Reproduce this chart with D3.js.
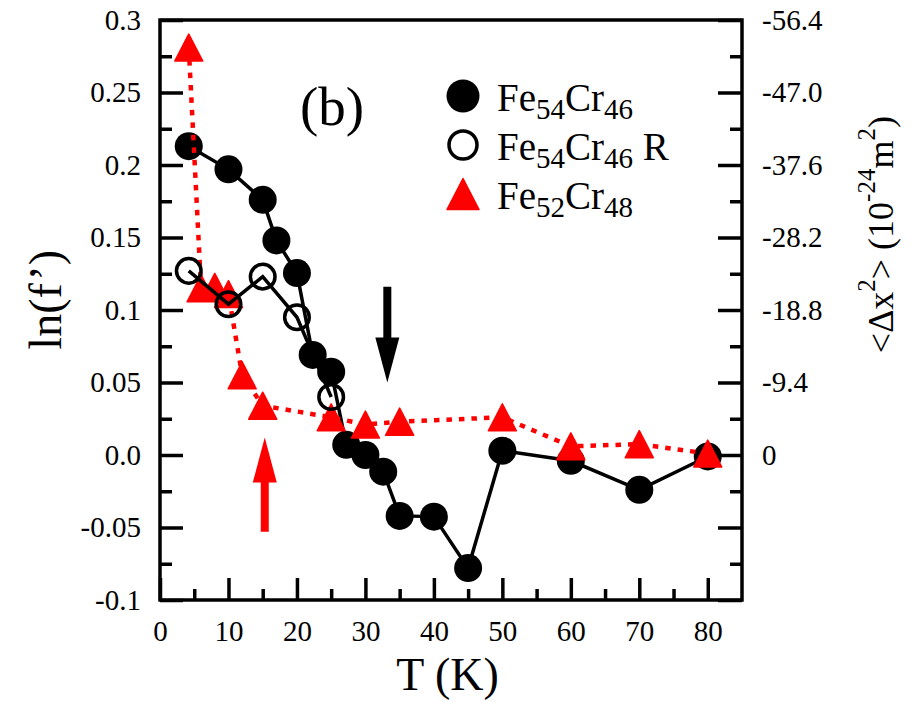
<!DOCTYPE html>
<html>
<head>
<meta charset="utf-8">
<script src="https://cdn.jsdelivr.net/npm/d3@7/dist/d3.min.js"></script>
<style>
  html, body { margin: 0; padding: 0; background: #fff; }
  svg { display: block; }
  text { font-family: "Liberation Serif", "Times New Roman", serif; fill: #000; }
</style>
</head>
<body>
<svg id="chart" width="913" height="701"></svg>
<script>
// ---------------- data ----------------
const T_FeCr46 = [4.2, 10, 15, 17, 20, 22.3, 25, 27.2, 30, 32.6, 35, 40, 45, 50, 60, 70, 80];
const lnf_FeCr46 = [0.213, 0.197, 0.176, 0.148, 0.1255, 0.069, 0.0575, 0.007, 0.0, -0.0115, -0.042, -0.0425, -0.078, 0.003, -0.004, -0.024, -0.001];

const T_FeCr46R = [4.2, 10, 15, 20, 25];
const lnf_FeCr46R = [0.127, 0.104, 0.123, 0.095, 0.040];

const T_FeCr48 = [4.2, 6, 8, 10, 12, 15, 25, 30, 35, 50, 60, 70, 80];
const lnf_FeCr48 = [0.281, 0.115, 0.116, 0.111, 0.055, 0.034, 0.026, 0.021, 0.023, 0.026, 0.006, 0.0075, 0.001];

const xTicks = [0, 10, 20, 30, 40, 50, 60, 70, 80];
const xMinor = [5, 15, 25, 35, 45, 55, 65, 75];
const yTicks = [0.3, 0.25, 0.2, 0.15, 0.1, 0.05, 0.0, -0.05, -0.1];
const yTickLabels = ["0.3", "0.25", "0.2", "0.15", "0.1", "0.05", "0.0", "-0.05", "-0.1"];
const yMinor = [0.275, 0.225, 0.175, 0.125, 0.075, 0.025, -0.025, -0.075];
const rightTicks = [0.3, 0.25, 0.2, 0.15, 0.1, 0.05, 0.0];
const rightTickLabels = ["-56.4", "-47.0", "-37.6", "-28.2", "-18.8", "-9.4", "0"];

// annotation arrows (data units): x, tail y, tip y
const arrows = [
  { T: 33.2, from: 0.116, to: 0.050, color: "#000" },
  { T: 15.3, from: -0.053, to: 0.012, color: "#ff0000" }
];

// ---------------- layout ----------------
const L = 160, R = 742, Top = 20, Bot = 600;
const svg = d3.select("#chart");
const x = d3.scaleLinear().domain([0, 85]).range([L, R]);
const y = d3.scaleLinear().domain([-0.1, 0.3]).range([Bot, Top]);
const RED = "#ff0000";

// axes
function styleAxis(g) {
  g.attr("font-family", null).attr("font-size", null);
  g.select(".domain").remove();
  g.selectAll(".tick line").attr("stroke", "#000").attr("stroke-width", 3.5);
  g.selectAll(".tick text").style("font-family", "'Liberation Serif', 'Times New Roman', serif").style("font-size", "29px").attr("fill", "#000");
}

// bottom
svg.append("g").attr("transform", `translate(0,${Bot})`)
  .call(d3.axisBottom(x).tickValues(xTicks).tickSize(-22).tickPadding(20).tickFormat(d3.format("d")))
  .call(styleAxis);
svg.append("g").attr("transform", `translate(0,${Bot})`)
  .call(d3.axisBottom(x).tickValues(xMinor).tickSize(-11).tickFormat(""))
  .call(styleAxis);

// left
svg.append("g").attr("transform", `translate(${L},0)`)
  .call(d3.axisLeft(y).tickValues(yTicks).tickSize(-23).tickPadding(19).tickFormat((d, i) => yTickLabels[i]))
  .call(styleAxis);
svg.append("g").attr("transform", `translate(${L},0)`)
  .call(d3.axisLeft(y).tickValues(yMinor).tickSize(-12).tickFormat(""))
  .call(styleAxis);

// right
svg.append("g").attr("transform", `translate(${R},0)`)
  .call(d3.axisRight(y).tickValues(rightTicks).tickSize(-24).tickPadding(20).tickFormat((d, i) => rightTickLabels[i]))
  .call(styleAxis);
svg.append("g").attr("transform", `translate(${R},0)`)
  .call(d3.axisRight(y).tickValues([-0.1, -0.05]).tickSize(-24).tickFormat(""))
  .call(styleAxis);
svg.append("g").attr("transform", `translate(${R},0)`)
  .call(d3.axisRight(y).tickValues(yMinor).tickSize(-12).tickFormat(""))
  .call(styleAxis);

// frame
svg.append("rect").attr("x", L).attr("y", Top).attr("width", R - L).attr("height", Bot - Top)
  .attr("fill", "none").attr("stroke", "#000").attr("stroke-width", 3.5);

// axis titles
svg.append("text").attr("x", x(42)).attr("y", 690).attr("text-anchor", "middle")
  .style("font-size", "46px").text("T (K)");

svg.append("text").attr("transform", `translate(61,${y(0.107)}) rotate(-90)`).attr("text-anchor", "middle")
  .style("font-size", "46px").text("ln(f’)");

const rt = svg.append("text").attr("transform", `translate(893,${y(0.152)}) rotate(-90)`).attr("text-anchor", "middle")
  .style("font-size", "36px");
rt.append("tspan").text("<Δx");
rt.append("tspan").attr("dy", -18).style("font-size", "25px").text("2");
rt.append("tspan").attr("dy", 18).text(">");
rt.append("tspan").text(" (10");
rt.append("tspan").attr("dy", -18).style("font-size", "25px").text("-24");
rt.append("tspan").attr("dy", 18).text("m");
rt.append("tspan").attr("dy", -18).style("font-size", "25px").text("2");
rt.append("tspan").attr("dy", 18).text(")");

// (b) label
svg.append("text").attr("x", 300).attr("y", 125).style("font-size", "55px").text("(b)");

// ---------------- series ----------------
const line = d3.line().x(d => x(d[0])).y(d => y(d[1]));
const d46 = T_FeCr46.map((t, i) => [t, lnf_FeCr46[i]]);
const d46R = T_FeCr46R.map((t, i) => [t, lnf_FeCr46R[i]]);
const d48 = T_FeCr48.map((t, i) => [t, lnf_FeCr48[i]]);

const tri = (w, h) => `M0,${-h / 2}L${w / 2},${h / 2}L${-w / 2},${h / 2}Z`;

// Fe54Cr46 (filled)
svg.append("path").datum(d46).attr("d", line).attr("fill", "none").attr("stroke", "#000").attr("stroke-width", 3.5);
svg.append("g").selectAll("circle").data(d46).join("circle")
  .attr("cx", d => x(d[0])).attr("cy", d => y(d[1])).attr("r", 14).attr("fill", "#000");

// Fe52Cr48 (red triangles)
svg.append("path").datum(d48).attr("d", line).attr("fill", "none").attr("stroke", RED)
  .attr("stroke-width", 4.5).attr("stroke-dasharray", "5.5,7");
svg.append("g").selectAll("path").data(d48).join("path")
  .attr("d", tri(28, 27)).attr("transform", d => `translate(${x(d[0])},${y(d[1])})`)
  .attr("fill", RED).attr("stroke", RED).attr("stroke-width", 1.5).attr("stroke-linejoin", "round");

// Fe54Cr46 R (open)
svg.append("path").datum(d46R).attr("d", line).attr("fill", "none").attr("stroke", "#000").attr("stroke-width", 3.5);
svg.append("g").selectAll("circle").data(d46R).join("circle")
  .attr("cx", d => x(d[0])).attr("cy", d => y(d[1])).attr("r", 12.3)
  .attr("fill", "none").attr("stroke", "#000").attr("stroke-width", 3.5);

// arrows
arrows.forEach(a => {
  const cx = x(a.T), y0 = y(a.from), y1 = y(a.to);
  const dir = Math.sign(y1 - y0);
  const headLen = 45, headW = 24, shaftW = 8;
  const yb = y1 - dir * headLen;
  const p = `M${cx - shaftW / 2},${y0}L${cx + shaftW / 2},${y0}L${cx + shaftW / 2},${yb}L${cx + headW / 2},${yb}L${cx},${y1}L${cx - headW / 2},${yb}L${cx - shaftW / 2},${yb}Z`;
  svg.append("path").attr("d", p).attr("fill", a.color);
});

// ---------------- legend ----------------
const legend = [
  { label: ["Fe", "54", "Cr", "46", ""], type: "filled" },
  { label: ["Fe", "54", "Cr", "46", " R"], type: "open" },
  { label: ["Fe", "52", "Cr", "48", ""], type: "tri" }
];
legend.forEach((lg, i) => {
  const cy = 96 + i * 49;
  const mx = 463;
  if (lg.type === "filled") svg.append("circle").attr("cx", mx).attr("cy", cy).attr("r", 16.5).attr("fill", "#000");
  else if (lg.type === "open") svg.append("circle").attr("cx", mx).attr("cy", cy).attr("r", 14).attr("fill", "none").attr("stroke", "#000").attr("stroke-width", 3.5);
  else svg.append("path").attr("d", tri(32, 31)).attr("transform", `translate(${mx},${cy})`).attr("fill", RED).attr("stroke", RED).attr("stroke-width", 1.5).attr("stroke-linejoin", "round");
  const t = svg.append("text").attr("x", 497).attr("y", cy + 15).style("font-size", "39px");
  t.append("tspan").text(lg.label[0]);
  t.append("tspan").attr("dy", 8).style("font-size", "29px").text(lg.label[1]);
  t.append("tspan").attr("dy", -8).text(lg.label[2]);
  t.append("tspan").attr("dy", 8).style("font-size", "29px").text(lg.label[3]);
  if (lg.label[4]) t.append("tspan").attr("dy", -8).text(lg.label[4]);
});
</script>
</body>
</html>
